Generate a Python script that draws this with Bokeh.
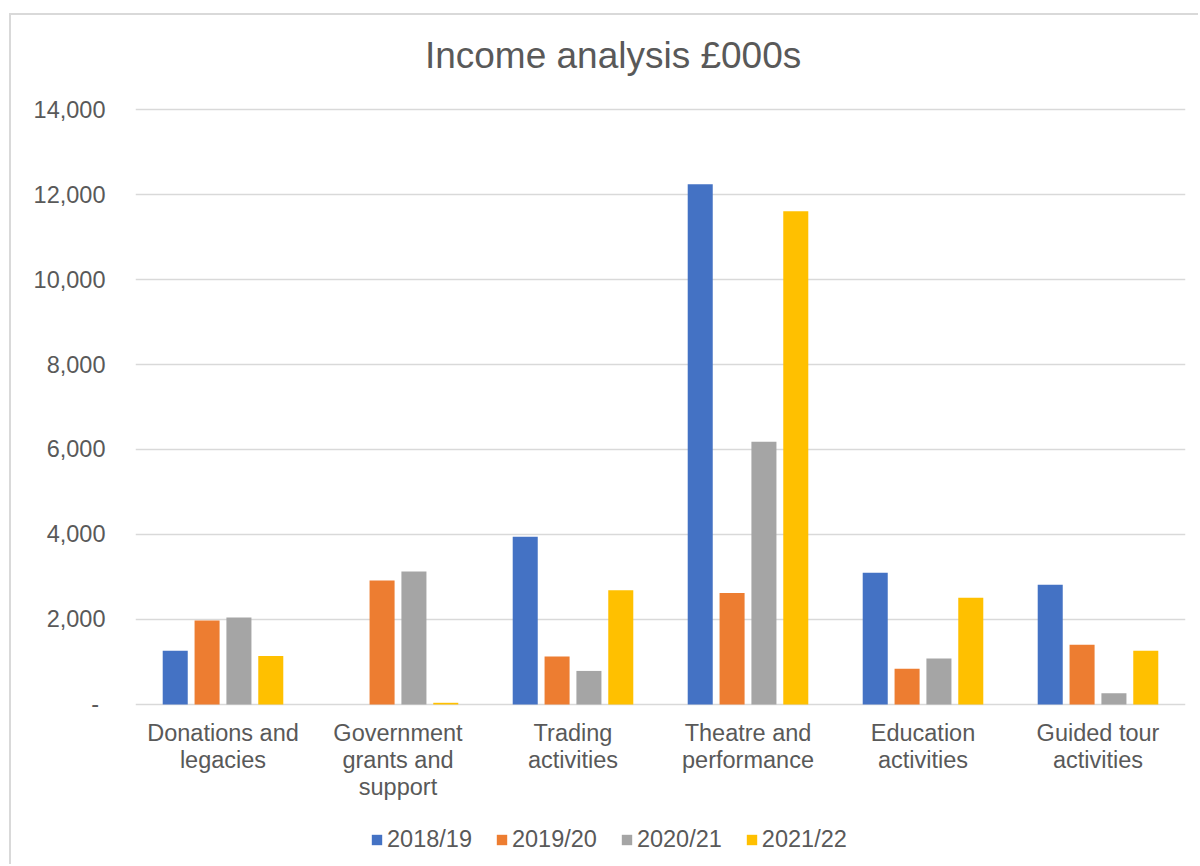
from bokeh.plotting import figure
from bokeh.models import (ColumnDataSource, FactorRange, Range1d, FixedTicker,
                          NumeralTickFormatter, Legend, LegendItem, Label)
from bokeh.transform import dodge
from bokeh.core.properties import value
from bokeh.embed import file_html
from bokeh.resources import INLINE

categories = ["Donations and legacies", "Government grants and support",
              "Trading activities", "Theatre and performance",
              "Education activities", "Guided tour activities"]
category_labels = ["Donations and\nlegacies", "Government\ngrants and\nsupport",
                   "Trading\nactivities", "Theatre and\nperformance",
                   "Education\nactivities", "Guided tour\nactivities"]
series_names = ["2018/19", "2019/20", "2020/21", "2021/22"]
v_2018_19 = [1265, 0, 3945, 12240, 3100, 2815]
v_2019_20 = [1975, 2915, 1130, 2625, 840, 1405]
v_2020_21 = [2045, 3130, 790, 6180, 1080, 267]
v_2021_22 = [1140, 40, 2690, 11605, 2510, 1263]
y_ticks = [0, 2000, 4000, 6000, 8000, 10000, 12000, 14000]
title_text = "Income analysis £000s"

colors = ["#4472C4", "#ED7D31", "#A5A5A5", "#FFC000"]
FONT = "Liberation Sans"
TXT = "#595959"

src = ColumnDataSource(dict(cat=categories, lab=category_labels, s0=v_2018_19,
                            s1=v_2019_20, s2=v_2020_21, s3=v_2021_22))

# frame spans the full canvas height; value axis scale 0.0425 px per unit
p = figure(x_range=FactorRange(*categories, range_padding=0, factor_padding=0),
           y_range=Range1d(-3812, 16212),
           width=1189, height=851, output_backend="svg", toolbar_location=None,
           min_border_left=124, min_border_right=15, min_border_top=0,
           min_border_bottom=0)
p.styles = {"border-left": "2px solid #d9d9d9", "border-top": "2px solid #d9d9d9",
            "margin-left": "9px", "margin-top": "13px"}

offsets = [-0.273, -0.091, 0.091, 0.273]
items = []
for i, (name, col) in enumerate(zip(series_names, ["s0", "s1", "s2", "s3"])):
    r = p.vbar(x=dodge("cat", offsets[i], range=p.x_range), top=col, width=0.143,
               source=src, fill_color=colors[i], line_color=None)
    items.append(LegendItem(label=name, renderers=[r]))

# category labels under the bars
p.text(x="cat", y=-365, text="lab", source=src, text_align="center",
       text_baseline="top", text_font=value(FONT), text_font_size="23.5px",
       text_color=TXT, text_line_height=1.04)

legend = Legend(items=items, orientation="horizontal", location=(235, 13),
                border_line_color=None, background_fill_alpha=0,
                padding=0, margin=0, spacing=23, label_standoff=4,
                glyph_width=13, glyph_height=13,
                label_text_font=FONT, label_text_font_size="23.5px",
                label_text_color=TXT)
p.add_layout(legend, "center")

p.add_layout(Label(x=2.729, y=15271, text=title_text, text_align="center",
                   text_baseline="middle", text_font=FONT,
                   text_font_size="37px", text_color=TXT))

p.outline_line_color = None
p.xgrid.grid_line_color = None
p.ygrid.grid_line_color = "#d9d9d9"
p.ygrid.grid_line_width = 1.5
p.xaxis.visible = False

p.yaxis.ticker = FixedTicker(ticks=y_ticks)
p.yaxis.formatter = NumeralTickFormatter(format="0,0")
p.yaxis.major_label_overrides = {0: "-\u00a0"}
ax = p.yaxis[0]
ax.axis_line_color = None
ax.major_tick_line_color = None
ax.minor_tick_line_color = None
ax.major_label_text_font = FONT
ax.major_label_text_font_size = "23.5px"
ax.major_label_text_color = TXT
ax.major_label_standoff = 24

open("out.html", "w").write(file_html(p, INLINE))
